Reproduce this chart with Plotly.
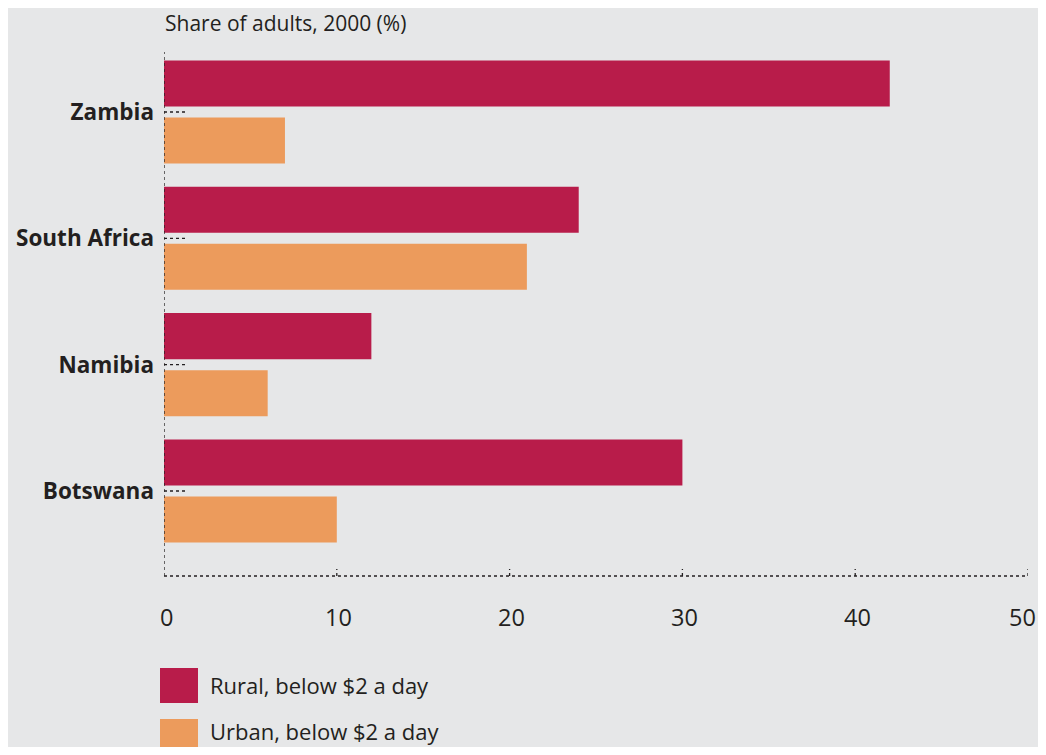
"""Share of adults below $2 a day, rural vs urban, 2000."""

import plotly.graph_objects as go

COUNTRIES = ["Botswana", "Namibia", "South Africa", "Zambia"]
RURAL = [30, 12, 24, 42]
URBAN = [10, 6, 21, 7]
X_TICKS = [0, 10, 20, 30, 40, 50]

SERIES_NAMES = ["Rural, below $2 a day", "Urban, below $2 a day"]
RURAL_COLOR = "#b81c4a"
URBAN_COLOR = "#ec9b5c"
BG = "#e6e7e8"
INK = "#231f20"
FONT = "Open Sans"

# the page body adds an 8px margin all round, so the figure is shrunk to fit
OFF = 8
W, H = 1046 - 2 * OFF, 755 - 2 * OFF
L, T = 164 - OFF, 52 - OFF
R = W - L - 864
B = H - T - 524
PW, PH = W - L - R, H - T - B


def px_x(px):
    return (px - OFF - L) / PW


def px_y(py):
    return (H - B - (py - OFF)) / PH


fig = go.Figure()
# urban first so rural sits above it in each group
fig.add_trace(go.Bar(y=COUNTRIES, x=URBAN, orientation="h", name=SERIES_NAMES[1],
                     marker=dict(color=URBAN_COLOR, line=dict(width=0)),
                     showlegend=False))
fig.add_trace(go.Bar(y=COUNTRIES, x=RURAL, orientation="h", name=SERIES_NAMES[0],
                     marker=dict(color=RURAL_COLOR, line=dict(width=0)),
                     showlegend=False))

shapes = []
dot = dict(color=INK, width=1.3, dash="dot")
# dotted axis lines
shapes.append(dict(type="line", xref="x", yref="y domain", x0=0, x1=50, y0=0, y1=0, line=dot))
shapes.append(dict(type="line", xref="x", yref="y domain", x0=0, x1=0, y0=0, y1=1, line=dot))
# dotted tick marks on the x axis
for t in X_TICKS[1:]:
    shapes.append(dict(type="line", xref="x", yref="y domain", ysizemode="pixel", yanchor=0,
                       x0=t, x1=t, y0=0, y1=7, line=dot))
# dotted category ticks on the y axis
for c in COUNTRIES:
    shapes.append(dict(type="line", xref="x domain", yref="y", xsizemode="pixel", xanchor=0,
                       x0=0, x1=24, y0=c, y1=c, line=dot))

annotations = []
# x tick labels as annotations so the last one can hug the right edge
for t in X_TICKS:
    last = t == X_TICKS[-1]
    annotations.append(dict(xref="x", yref="y domain", x=t, y=0, yshift=-41,
                            xshift=10 if last else 2,
                            text=str(t), showarrow=False,
                            xanchor="right" if last else "center", yanchor="middle",
                            font=dict(family=FONT, size=23.5, color=INK)))

# legend swatches + labels
legend_tops = [668, 719]
legend_text_mid = [685, 731]
for name, col, top, mid in zip(SERIES_NAMES, [RURAL_COLOR, URBAN_COLOR], legend_tops, legend_text_mid):
    shapes.append(dict(type="rect", xref="paper", yref="paper", x0=px_x(160), x1=px_x(198),
                       y0=px_y(top + 35), y1=px_y(top), fillcolor=col, line=dict(width=0)))
    annotations.append(dict(xref="paper", yref="paper", x=px_x(208), y=px_y(mid),
                            text=name, showarrow=False, xanchor="left", yanchor="middle",
                            font=dict(family=FONT, size=22, color=INK)))

annotations.append(dict(xref="paper", yref="paper", x=px_x(163), y=px_y(23),
                        text="Share of adults, 2000 (%)", showarrow=False,
                        xanchor="left", yanchor="middle",
                        font=dict(family=FONT, size=21, color=INK)))

fig.update_layout(
    width=W, height=H,
    margin=dict(l=L, r=R, t=T, b=B, autoexpand=False),
    plot_bgcolor=BG, paper_bgcolor=BG,
    barmode="group", bargap=0.097, bargroupgap=0.193,
    shapes=shapes, annotations=annotations,
    showlegend=False,
    font=dict(family=FONT, color=INK),
)
fig.update_xaxes(range=[0, 50], tickvals=X_TICKS, showticklabels=False,
                 showgrid=False, zeroline=False, showline=False, ticks="", automargin=False)
fig.update_yaxes(type="category", categoryorder="array", categoryarray=COUNTRIES,
                 range=[-0.673, 3.475], showgrid=False, zeroline=False, showline=False,
                 ticks="", ticklabelstandoff=9, automargin=False,
                 tickfont=dict(family=FONT, size=22.5, color=INK, weight="bold"))

fig.write_html("out.html")
